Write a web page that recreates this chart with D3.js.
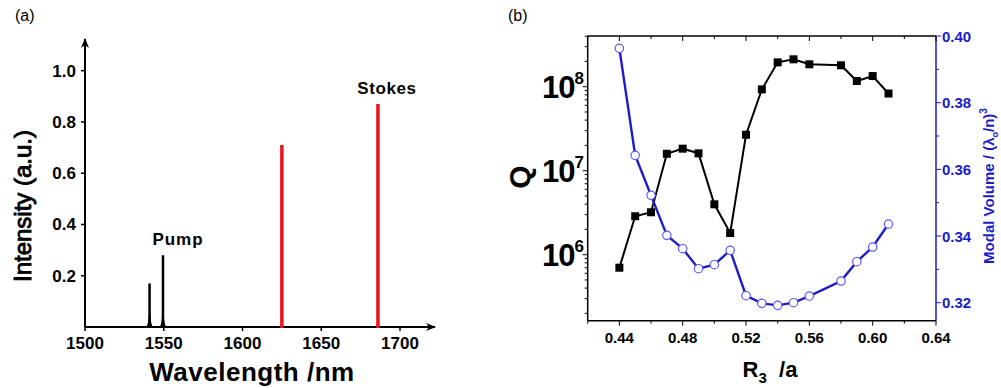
<!DOCTYPE html>
<html>
<head>
<meta charset="utf-8">
<script src="https://cdn.jsdelivr.net/npm/d3@7"></script>
<style>
  body { margin: 0; background: #fff; }
  svg { font-family: "Liberation Sans", Arial, sans-serif; font-weight: bold; }
</style>
</head>
<body>
<svg id="chart" width="1001" height="388"></svg>
<script>
// Panel (a) data: spectral lines
const pumpWavelength = [1541, 1549.5];
const pumpIntensity = [0.17, 0.28];
const stokesWavelength = [1625, 1686];
const stokesIntensity = [0.71, 0.87];
const spectrumTicksX = [1500, 1550, 1600, 1650, 1700];
const spectrumTicksY = [0.2, 0.4, 0.6, 0.8, 1.0];

// Panel (b) data
const r3 = [0.44, 0.45, 0.46, 0.47, 0.48, 0.49, 0.50, 0.51, 0.52, 0.53, 0.54, 0.55, 0.56, 0.58, 0.59, 0.60, 0.61];
const qFactor = [7.0e5, 2.87e6, 3.2e6, 1.59e7, 1.83e7, 1.61e7, 3.98e6, 1.81e6, 2.68e7, 9.3e7, 1.95e8, 2.12e8, 1.85e8, 1.8e8, 1.17e8, 1.34e8, 8.3e7];
const modalVolume = [0.3963, 0.3642, 0.3522, 0.3402, 0.3362, 0.3302, 0.3314, 0.3357, 0.3221, 0.3198, 0.3192, 0.3200, 0.3220, 0.3265, 0.3323, 0.3367, 0.3436];
const r3Ticks = [0.44, 0.48, 0.52, 0.56, 0.60, 0.64];
const qTicks = [1e6, 1e7, 1e8];
const volumeTicks = [0.32, 0.34, 0.36, 0.38, 0.40];

const BLUE = "#1c1cc8";
const RED = "#e8131b";

const svg = d3.select("#chart");
svg.append("rect").attr("width", 1001).attr("height", 388).attr("fill", "#fff");

// ---------- Panel (a) ----------
const xA = d3.scaleLinear().domain([1500, 1700]).range([85, 400]);
const yA = d3.scaleLinear().domain([0, 1]).range([327, 70.7]);
const gA = svg.append("g");

gA.append("text").attr("x", 15).attr("y", 21).attr("font-size", 16)
  .attr("font-weight", "normal").text("(a)");

const defs = svg.append("defs");
defs.append("marker").attr("id", "arrow").attr("viewBox", "0 0 10 10")
  .attr("refX", 9).attr("refY", 5).attr("markerWidth", 5).attr("markerHeight", 5)
  .attr("orient", "auto").attr("markerUnits", "strokeWidth")
  .append("path").attr("d", "M0,1 L10,5 L0,9 L3,5 Z").attr("fill", "#000");

// axes with arrow heads
gA.append("line").attr("x1", xA(1500)).attr("x2", 435).attr("y1", yA(0)).attr("y2", yA(0))
  .attr("stroke", "#000").attr("stroke-width", 2).attr("marker-end", "url(#arrow)");
gA.append("line").attr("x1", xA(1500)).attr("x2", xA(1500)).attr("y1", yA(0)).attr("y2", 39)
  .attr("stroke", "#000").attr("stroke-width", 2).attr("marker-end", "url(#arrow)");

spectrumTicksX.forEach(v => {
  gA.append("line").attr("x1", xA(v)).attr("x2", xA(v)).attr("y1", yA(0)).attr("y2", yA(0) + 4)
    .attr("stroke", "#000").attr("stroke-width", 1.5);
  gA.append("text").attr("x", xA(v)).attr("y", 349).attr("text-anchor", "middle")
    .attr("font-size", 17).text(v);
});
spectrumTicksY.forEach(v => {
  gA.append("line").attr("x1", xA(1500) - 4).attr("x2", xA(1500)).attr("y1", yA(v)).attr("y2", yA(v))
    .attr("stroke", "#000").attr("stroke-width", 1.5);
  gA.append("text").attr("x", 76).attr("y", yA(v) + 6).attr("text-anchor", "end")
    .attr("font-size", 17).text(v.toFixed(1));
});

// spectral lines
pumpWavelength.forEach((w, i) => {
  gA.append("line").attr("x1", xA(w)).attr("x2", xA(w)).attr("y1", yA(0)).attr("y2", yA(pumpIntensity[i]))
    .attr("stroke", "#000").attr("stroke-width", 2.5);
  gA.append("path")
    .attr("d", `M${xA(w) - 4},${yA(0)} Q${xA(w) - 1},${yA(0) - 1} ${xA(w) - 1},${yA(0.05)} L${xA(w) + 1},${yA(0.05)} Q${xA(w) + 1},${yA(0) - 1} ${xA(w) + 4},${yA(0)} Z`)
    .attr("fill", "#000");
});
stokesWavelength.forEach((w, i) => {
  gA.append("line").attr("x1", xA(w)).attr("x2", xA(w)).attr("y1", yA(0) + 1).attr("y2", yA(stokesIntensity[i]))
    .attr("stroke", RED).attr("stroke-width", 3.5);
});

gA.append("text").attr("x", 178).attr("y", 245).attr("text-anchor", "middle")
  .attr("font-size", 17).attr("letter-spacing", 1).text("Pump");
gA.append("text").attr("x", 387).attr("y", 94).attr("text-anchor", "middle")
  .attr("font-size", 17).attr("letter-spacing", 0.6).text("Stokes");

gA.append("text").attr("x", 252).attr("y", 381).attr("text-anchor", "middle")
  .attr("font-size", 26).attr("letter-spacing", 0.5).text("Wavelength /nm");
gA.append("text").attr("transform", "translate(31,206) rotate(-90)").attr("text-anchor", "middle")
  .attr("font-size", 24).attr("font-weight", "normal").attr("stroke", "#000").attr("stroke-width", 0.9)
  .text("Intensity (a.u.)");

// ---------- Panel (b) ----------
const bLeft = 587.7, bRight = 936, bTop = 36, bBottom = 320.7;
const xB = d3.scaleLinear().domain([0.42, 0.64]).range([bLeft, bRight]);
const yQ = d3.scaleLog().domain([Math.pow(10, 5.214), Math.pow(10, 8.604)]).range([bBottom, bTop]);
const yV = d3.scaleLinear().domain([0.3146, 0.40]).range([bBottom, bTop]);
const gB = svg.append("g");

gB.append("text").attr("x", 508).attr("y", 21).attr("font-size", 16)
  .attr("font-weight", "normal").text("(b)");

// frame
gB.append("line").attr("x1", bLeft).attr("x2", bRight).attr("y1", bTop).attr("y2", bTop).attr("stroke", "#000").attr("stroke-width", 1.5);
gB.append("line").attr("x1", bLeft).attr("x2", bRight).attr("y1", bBottom).attr("y2", bBottom).attr("stroke", "#000").attr("stroke-width", 1.5);
gB.append("line").attr("x1", bLeft).attr("x2", bLeft).attr("y1", bTop).attr("y2", bBottom).attr("stroke", "#000").attr("stroke-width", 1.5);
gB.append("line").attr("x1", bRight).attr("x2", bRight).attr("y1", bTop).attr("y2", bBottom).attr("stroke", BLUE).attr("stroke-width", 1.5);

// bottom + top x ticks
d3.range(0.42, 0.6401, 0.02).forEach(v => {
  const major = r3Ticks.some(t => Math.abs(t - v) < 1e-6);
  const len = major ? 5 : 3;
  gB.append("line").attr("x1", xB(v)).attr("x2", xB(v)).attr("y1", bBottom).attr("y2", bBottom + len).attr("stroke", "#000");
  gB.append("line").attr("x1", xB(v)).attr("x2", xB(v)).attr("y1", bTop).attr("y2", bTop + len).attr("stroke", "#000");
});
r3Ticks.forEach(v => {
  gB.append("text").attr("x", xB(v)).attr("y", 343).attr("text-anchor", "middle")
    .attr("font-size", 15).text(v.toFixed(2));
});

// left log ticks
const qMinor = [];
for (let e = 5; e <= 8; e++) for (let m = 1; m <= 9; m++) {
  const v = m * Math.pow(10, e);
  if (v >= yQ.domain()[0] && v <= yQ.domain()[1]) qMinor.push(v);
}
qMinor.forEach(v => {
  const major = qTicks.includes(v);
  gB.append("line").attr("x1", bLeft - (major ? 5 : 3)).attr("x2", bLeft).attr("y1", yQ(v)).attr("y2", yQ(v)).attr("stroke", "#000");
});
qTicks.forEach(v => {
  const t = gB.append("text").attr("x", 583).attr("y", yQ(v) + 11).attr("text-anchor", "end")
    .attr("font-size", 31).attr("letter-spacing", -1);
  t.append("tspan").text("10");
  t.append("tspan").attr("dy", -14).attr("font-size", 17).text(Math.round(Math.log10(v)));
});

// right volume ticks
d3.range(0.32, 0.4001, 0.01).forEach(v => {
  const major = volumeTicks.some(t => Math.abs(t - v) < 1e-6);
  gB.append("line").attr("x1", bRight).attr("x2", bRight + (major ? 5 : 3)).attr("y1", yV(v)).attr("y2", yV(v)).attr("stroke", BLUE);
});
volumeTicks.forEach(v => {
  gB.append("text").attr("x", 942).attr("y", yV(v) + 5.5).attr("font-size", 15).attr("fill", BLUE).text(v.toFixed(2));
});

// Q series
const qPoints = r3.map((x, i) => [x, qFactor[i]]);
gB.append("path").datum(qPoints)
  .attr("d", d3.line().x(d => xB(d[0])).y(d => yQ(d[1])))
  .attr("fill", "none").attr("stroke", "#000").attr("stroke-width", 2);
gB.selectAll(".sq").data(qPoints).join("rect").attr("class", "sq")
  .attr("x", d => xB(d[0]) - 4).attr("y", d => yQ(d[1]) - 4)
  .attr("width", 8).attr("height", 8).attr("fill", "#000");

// modal volume series
const vPoints = r3.map((x, i) => [x, modalVolume[i]]);
gB.append("path").datum(vPoints)
  .attr("d", d3.line().x(d => xB(d[0])).y(d => yV(d[1])))
  .attr("fill", "none").attr("stroke", BLUE).attr("stroke-width", 2.4);
gB.selectAll(".circ").data(vPoints).join("circle").attr("class", "circ")
  .attr("cx", d => xB(d[0])).attr("cy", d => yV(d[1])).attr("r", 4.2)
  .attr("fill", "#fff").attr("stroke", "#5a5af0").attr("stroke-width", 1.2);

// axis titles
gB.append("text").attr("transform", "translate(530,177) rotate(-90)").attr("text-anchor", "middle")
  .attr("font-size", 30).text("Q");
const xt = gB.append("text").attr("x", 770).attr("y", 377).attr("text-anchor", "middle").attr("font-size", 22);
xt.append("tspan").text("R");
xt.append("tspan").attr("font-size", 15).attr("dy", 6).text("3");
xt.append("tspan").attr("dy", -6).text("\u00a0\u00a0/a");

const yt = gB.append("text").attr("transform", "translate(994,186) rotate(-90)").attr("text-anchor", "middle")
  .attr("font-size", 15).attr("fill", BLUE);
yt.append("tspan").text("Modal Volume  / (\u03bb");
yt.append("tspan").attr("font-size", 9).attr("dy", 4).text("o");
yt.append("tspan").attr("dy", -4).text("/n)");
yt.append("tspan").attr("font-size", 10).attr("dy", -7).text("3");
</script>
</body>
</html>
